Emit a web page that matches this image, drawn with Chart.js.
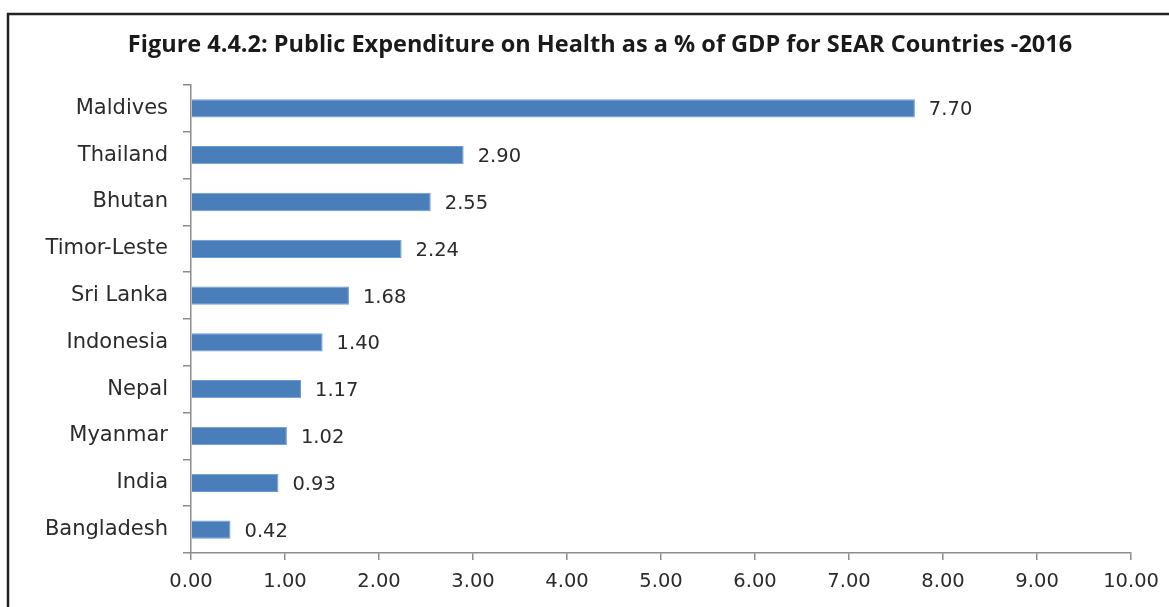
<!DOCTYPE html>
<html>
<head>
<meta charset="utf-8">
<script src="https://cdn.jsdelivr.net/npm/chart.js@4"></script>
<style>
  html, body { margin: 0; padding: 0; background: #fff; }
  #wrap { width: 1169px; height: 607px; }
</style>
</head>
<body>
<div id="wrap"><canvas id="chart" width="1169" height="607"></canvas></div>
<script>
// --- data ---
const countries = ["Maldives", "Thailand", "Bhutan", "Timor-Leste", "Sri Lanka",
  "Indonesia", "Nepal", "Myanmar", "India", "Bangladesh"];
const expenditure = [7.70, 2.90, 2.55, 2.24, 1.68, 1.40, 1.17, 1.02, 0.93, 0.42];
const xMin = 0;
const xMax = 10;
const xStep = 1;
const chartTitle = "Figure 4.4.2: Public Expenditure on Health as a % of GDP for SEAR Countries -2016";

const labelFont = "'DejaVu Sans', Verdana, sans-serif";
const axisGrey = "#8c8c8c";
const textColor = "#2b2b2b";

// white background, frame line (left and top only, rest is cut off) and the title
const framePlugin = {
  id: "frame",
  beforeDraw(chart) {
    const ctx = chart.ctx;
    ctx.save();
    ctx.fillStyle = "#fff";
    ctx.fillRect(0, 0, chart.width, chart.height);
    ctx.strokeStyle = "#222";
    ctx.lineWidth = 2.5;
    ctx.beginPath();
    ctx.moveTo(8, chart.height + 2);
    ctx.lineTo(8, 14);
    ctx.lineTo(chart.width + 2, 14);
    ctx.stroke();
    // title is centred on the frame, not on the plot
    ctx.font = "bold 23.5px 'Open Sans', Lato, sans-serif";
    ctx.fillStyle = "#1a1a1a";
    ctx.textAlign = "center";
    ctx.textBaseline = "middle";
    ctx.fillText(chartTitle, 600, 45);
    ctx.restore();
  }
};

// value labels at the end of each bar
const valueLabels = {
  id: "valueLabels",
  afterDatasetsDraw(chart) {
    const ctx = chart.ctx;
    const meta = chart.getDatasetMeta(0);
    ctx.save();
    ctx.font = "19.5px " + labelFont;
    ctx.fillStyle = textColor;
    ctx.textAlign = "left";
    ctx.textBaseline = "middle";
    meta.data.forEach((bar, i) => {
      const v = chart.data.datasets[0].data[i];
      ctx.fillText(v.toFixed(2), bar.x + 14, bar.y + 2);
    });
    ctx.restore();
  }
};

const padLeft = 14;

new Chart(document.getElementById("chart"), {
  type: "bar",
  data: {
    labels: countries,
    datasets: [{
      data: expenditure,
      backgroundColor: "#4a7ebb",
      borderColor: "#6a9ad3",
      borderWidth: 1,
      categoryPercentage: 1,
      barPercentage: 0.39
    }]
  },
  options: {
    indexAxis: "y",
    responsive: false,
    animation: false,
    layout: { padding: { left: padLeft, right: 37, top: 85, bottom: 0 } },
    plugins: {
      legend: { display: false },
      tooltip: { enabled: false },
      title: { display: false }
    },
    scales: {
      x: {
        min: xMin,
        max: xMax,
        afterFit(scale) { scale.height = 54; },
        border: { display: true, color: axisGrey, width: 1.5 },
        grid: { drawOnChartArea: false, drawTicks: true, tickLength: 7, color: axisGrey, lineWidth: 1.5 },
        ticks: {
          stepSize: xStep,
          padding: 10,
          color: textColor,
          font: { family: labelFont, size: 19.5 },
          maxRotation: 0,
          callback: (v) => Number(v).toFixed(2)
        }
      },
      y: {
        afterFit(scale) { scale.width = 191 - padLeft; },
        border: { display: true, color: axisGrey, width: 1.5 },
        grid: { drawOnChartArea: false, drawTicks: true, tickLength: 8, color: axisGrey, lineWidth: 1.5, offset: true },
        ticks: {
          padding: 15,
          color: textColor,
          font: { family: labelFont, size: 21 }
        }
      }
    }
  },
  plugins: [framePlugin, valueLabels]
});
</script>
</body>
</html>
